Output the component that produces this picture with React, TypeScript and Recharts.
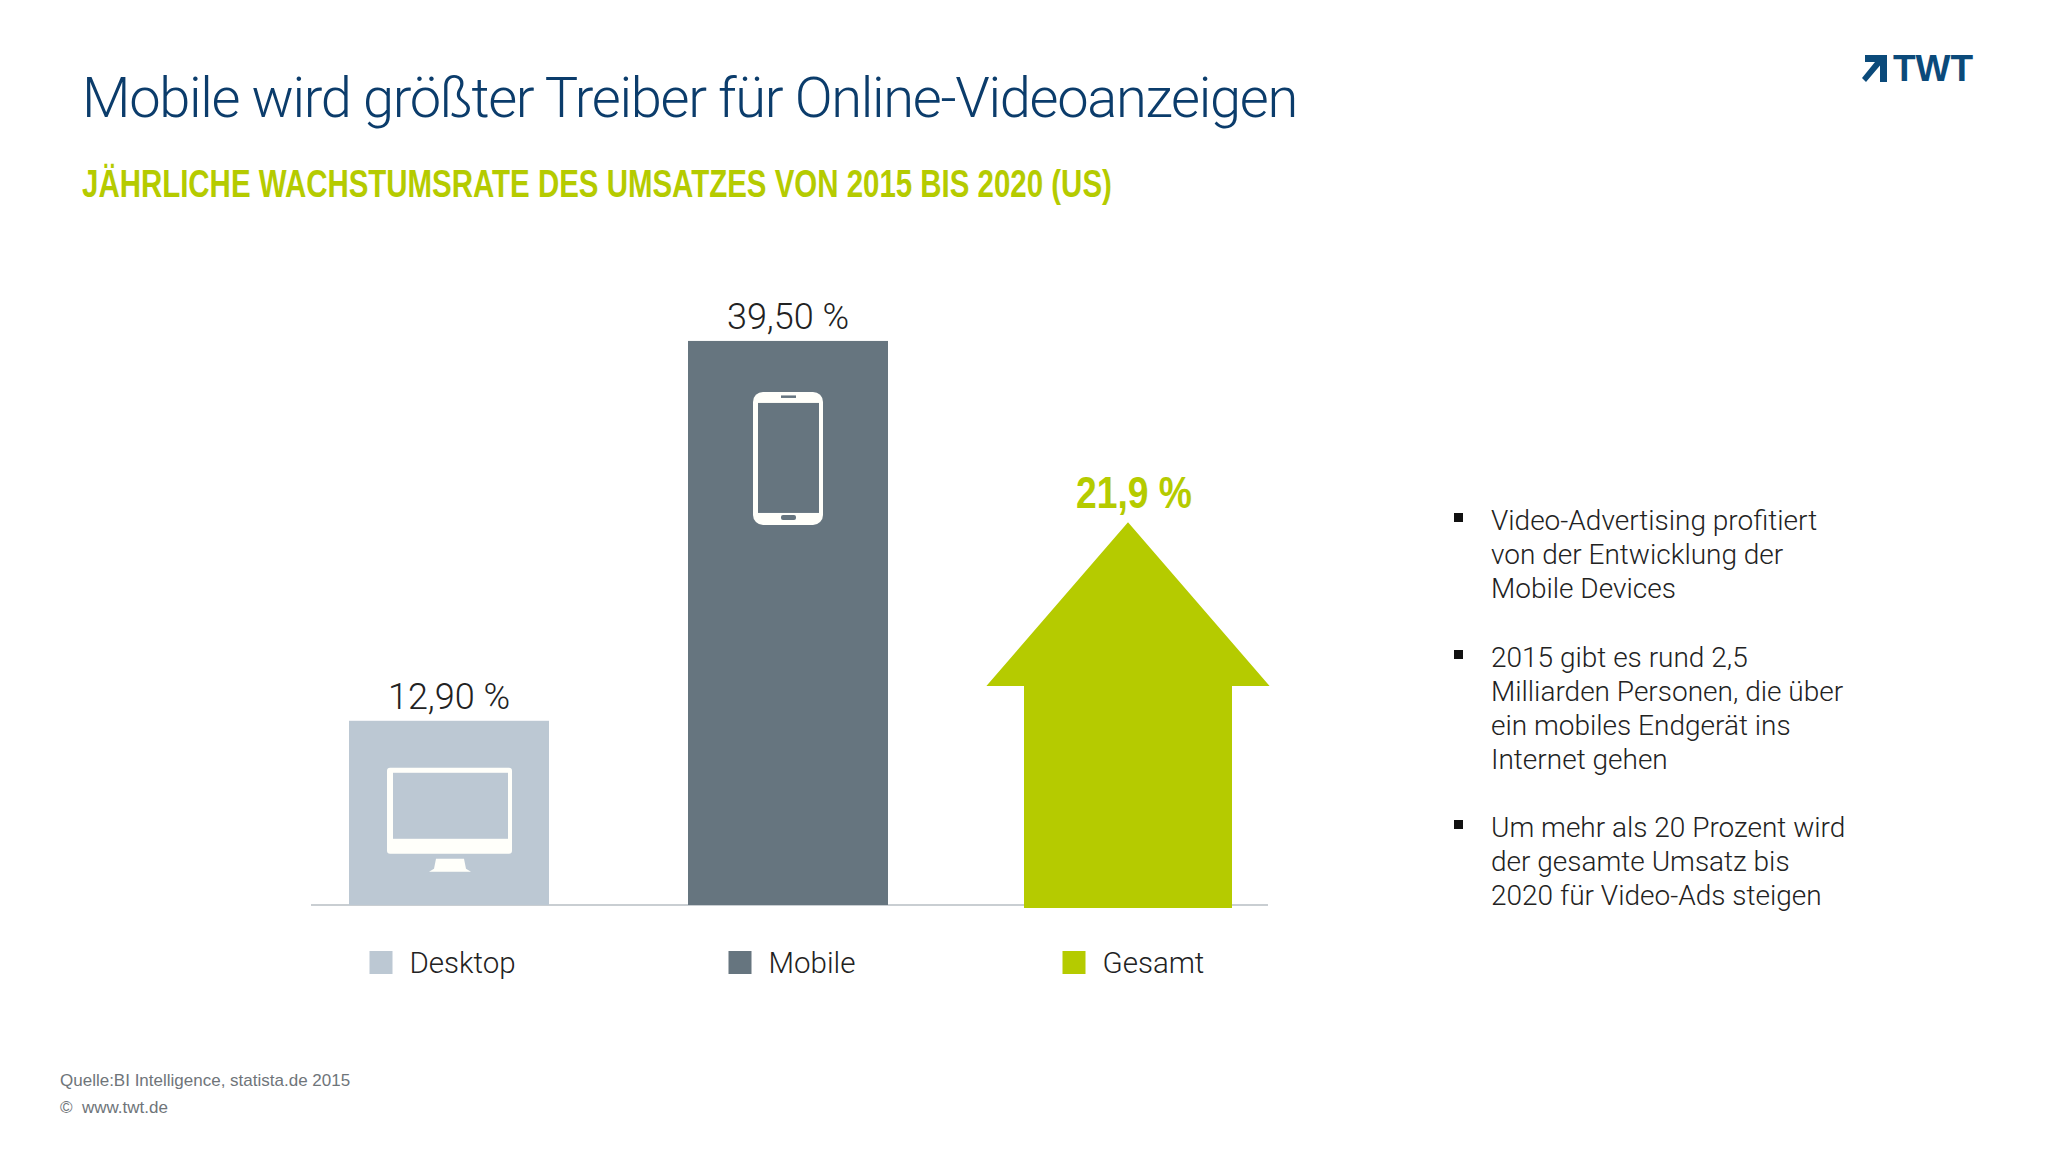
import React from "react";
import { BarChart, Bar, XAxis, YAxis, LabelList } from "recharts";

const categories = ["Desktop", "Mobile", "Gesamt"];
const growthValues = [12.9, 39.5, 21.9];
const valueLabels = ["12,90 %", "39,50 %", "21,9 %"];
const colors = ["#bcc8d3", "#66757f", "#b5cb00"];
const legendShift = [-79, -59, -64];
const bulletBlocks = [
  ["Video-Advertising profitiert", "von der Entwicklung der", "Mobile Devices"],
  ["2015 gibt es rund 2,5", "Milliarden Personen, die über", "ein mobiles Endgerät ins", "Internet gehen"],
  ["Um mehr als 20 Prozent wird", "der gesamte Umsatz bis", "2020 für Video-Ads steigen"],
];
const bulletCenters = [[521, 555, 589], [658, 692, 726, 760], [828, 862, 896]];

const rows = categories.map((name, i) => ({ name, value: growthValues[i], label: valueLabels[i] }));

const SANS = "'Liberation Sans', Arial, sans-serif";
const LIGHT = "Roboto, 'Liberation Sans', sans-serif";
const ICON = "#fffffa";

function MarkShape(props: any) {
  const { x, y, width, height, index } = props;
  const fill = colors[index];
  const cx = x + width / 2;
  if (index === 2) {
    const ax = cx + 1;
    const body = width * 0.52;
    const head = width * 0.708;
    const tipY = y - height * 0.224;
    const shoulderY = y + height * 0.3;
    const base = y + height + 3;
    const d = `M${ax},${tipY}L${ax + head},${shoulderY}L${ax + body},${shoulderY}L${ax + body},${base}L${ax - body},${base}L${ax - body},${shoulderY}L${ax - head},${shoulderY}Z`;
    return <path d={d} fill={fill} />;
  }
  return (
    <g>
      <rect x={x} y={y} width={width} height={height} fill={fill} />
      {index === 0 ? (
        <g>
          <rect x={cx - 62} y={y + 47} width={125} height={86} rx={3} fill={ICON} />
          <rect x={cx - 56} y={y + 52} width={115} height={66} fill={fill} />
          <path d={`M${cx - 13},${y + 138}L${cx + 15},${y + 138}L${cx + 17},${y + 148}L${cx + 22},${y + 151}L${cx - 20},${y + 151}L${cx - 15},${y + 148}Z`} fill={ICON} />
        </g>
      ) : (
        <g>
          <rect x={cx - 35} y={y + 51} width={70} height={133} rx={10} fill={ICON} />
          <rect x={cx - 30} y={y + 62} width={61} height={110} fill={fill} />
          <rect x={cx - 7} y={y + 54.5} width={15} height={2.5} fill={fill} />
          <rect x={cx - 7} y={y + 174} width={15} height={5} rx={2} fill={fill} />
        </g>
      )}
    </g>
  );
}

function ValueLabel(props: any) {
  const { x, y, width, height, value, index } = props;
  const cx = x + width / 2;
  if (index === 2) {
    return (
      <text x={cx + 7} y={y - height * 0.224 - 14} textAnchor="middle" textLength={116} lengthAdjust="spacingAndGlyphs" fontFamily={SANS} fontWeight={700} fontSize={45} fill={colors[2]}>
        {value}
      </text>
    );
  }
  return (
    <text x={cx} y={y - 12} textAnchor="middle" fontFamily={LIGHT} fontWeight={300} fontSize={36} fill="#222">
      {value}
    </text>
  );
}

function LegendTick(props: any) {
  const { x, y, payload, index } = props;
  const left = x + legendShift[index];
  const cy = y + 50;
  return (
    <g>
      <rect x={left} y={cy - 12} width={23} height={23} fill={colors[index]} />
      <text x={left + 40} y={cy + 10} fontFamily={LIGHT} fontWeight={300} fontSize={29.5} fill="#222">
        {payload.value}
      </text>
    </g>
  );
}

const abs = (left: number, top: number): React.CSSProperties => ({ position: "absolute", left, top, whiteSpace: "nowrap" });

export default function App() {
  return (
    <div style={{ position: "absolute", left: 0, top: 0, width: 2048, height: 1152, background: "#fff", overflow: "hidden" }}>
      <BarChart
        width={2048}
        height={1152}
        data={rows}
        margin={{ top: 191, right: 780, bottom: 217, left: 311 }}
        barCategoryGap={0}
        style={{ position: "absolute", left: 0, top: 0 }}
      >
        <XAxis
          dataKey="name"
          height={30}
          padding={{ left: -32, right: -28 }}
          axisLine={{ stroke: "#c9ced2", strokeWidth: 2 }}
          tickLine={false}
          tick={<LegendTick />}
          interval={0}
          {...({ zIndex: 100 } as any)}
        />
        <YAxis hide domain={[0, 50]} />
        <Bar dataKey="value" barSize={200} shape={<MarkShape />} isAnimationActive={false}>
          <LabelList dataKey="label" content={<ValueLabel />} />
        </Bar>
      </BarChart>

      <div style={{ ...abs(82, 63), fontFamily: LIGHT, fontWeight: 300, fontSize: 56, letterSpacing: -1.3, lineHeight: "70px", color: "#0b3c6b" }}>
        Mobile wird größter Treiber für Online-Videoanzeigen
      </div>
      <div style={{ ...abs(82, 162), fontFamily: SANS, fontWeight: 700, fontSize: 38, lineHeight: "44px", color: colors[2], transform: "scaleX(0.775)", transformOrigin: "left center" }}>
        JÄHRLICHE WACHSTUMSRATE DES UMSATZES VON 2015 BIS 2020 (US)
      </div>

      <svg width={34} height={34} style={{ position: "absolute", left: 1858, top: 52 }}>
        <path d="M7,3H29V30H22V13.5L8,30L4,26L17,10H7Z" fill="#0b4a7a" />
      </svg>
      <div style={{ ...abs(1893, 48), fontFamily: SANS, fontWeight: 700, fontSize: 37, lineHeight: "42px", color: "#0b4a7a" }}>TWT</div>

      {bulletBlocks.map((block, b) => (
        <React.Fragment key={b}>
          <div style={{ position: "absolute", left: 1454, top: bulletCenters[b][0] - 8, width: 9, height: 9, background: "#111" }} />
          {block.map((line, i) => (
            <div key={i} style={{ ...abs(1491, bulletCenters[b][i] - 20), fontFamily: LIGHT, fontWeight: 300, fontSize: 28, lineHeight: "40px", color: "#222" }}>
              {line}
            </div>
          ))}
        </React.Fragment>
      ))}

      <div style={{ ...abs(60, 1069), fontFamily: SANS, fontSize: 17, lineHeight: "24px", color: "#6f757a" }}>Quelle:BI Intelligence, statista.de 2015</div>
      <div style={{ ...abs(60, 1096), fontFamily: SANS, fontSize: 17, lineHeight: "24px", color: "#6f757a" }}>©&nbsp; www.twt.de</div>
    </div>
  );
}
